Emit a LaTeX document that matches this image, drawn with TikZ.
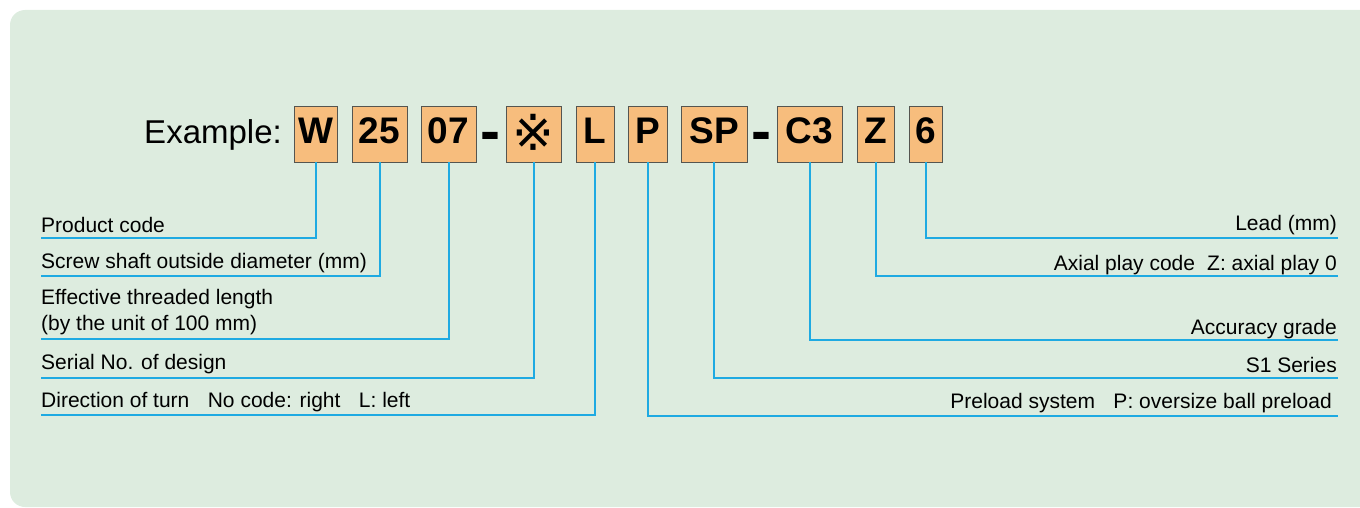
\documentclass[tikz,border=0pt]{standalone}
\usepackage{fontspec}
\setmainfont{Liberation Sans}
\newfontfamily\refmarkfont{DejaVu Sans}

\definecolor{panelgreen}{RGB}{221,236,223}
\definecolor{codeorange}{RGB}{247,189,125}
\definecolor{boxgray}{RGB}{85,85,80}
\definecolor{leadcyan}{RGB}{30,170,226}

\begin{document}
\begin{tikzpicture}[x=1pt, y=-1pt]

        % Setup the styles for the code boxes and the labels
        \tikzset{code box/.style={draw=boxgray,
                                  line width=0.8pt,
                                  fill=codeorange,
                                  minimum height=56pt,
                                  inner sep=0pt,
                                  text height=27pt,
                                  text depth=7pt,
                                  font=\fontsize{37}{40}\selectfont\bfseries},
                 dash sign/.style={inner sep=0pt, text height=41pt, text depth=7pt,
                                   font=\fontsize{60}{60}\selectfont\bfseries},
                 lead line/.style={draw=leadcyan, line width=2pt},
                 left label/.style={anchor=base west, inner sep=0pt, align=left,
                                    font=\fontsize{21}{26}\selectfont},
                 right label/.style={anchor=base east, inner sep=0pt,
                                     font=\fontsize{21}{26}\selectfont}}

        \useasboundingbox (0,0) rectangle (1360,508);

        % Draw the panel
        \fill[panelgreen, rounded corners=15pt] (10,10) rectangle (1400,507);

        % Draw the code boxes
        \node[anchor=base east, inner sep=0pt, font=\fontsize{33}{36}\selectfont]
                                        at (282,143)    (ex)    {Example:};
        \node[code box, minimum width=43pt]  at (315.5,134)  (cW)    {W};
        \node[code box, minimum width=55pt]  at (379.5,134)  (c25)   {25};
        \node[code box, minimum width=55pt]  at (448.5,134)  (c07)   {07};
        \node[dash sign]                     at (490.5,134)  (d1)    {-};
        \node[code box, minimum width=55pt]  at (533.5,134)  (cMark)
                        {\raisebox{-6pt}{\refmarkfont\mdseries\fontsize{50}{50}\selectfont ※}};
        \node[code box, minimum width=38pt]  at (595,134)    (cL)    {L};
        \node[code box, minimum width=39pt]  at (647.5,134)  (cP)    {P};
        \node[code box, minimum width=66pt]  at (714,134)    (cSP)   {SP};
        \node[dash sign]                     at (761.5,134)  (d2)    {-};
        \node[code box, minimum width=65pt]  at (809.5,134)  (cC3)   {C3};
        \node[code box, minimum width=37pt]  at (875.5,134)  (cZ)    {Z};
        \node[code box, minimum width=33pt]  at (925.5,134)  (c6)    {6};

        % Draw the labels
        \node[left label]   at (41,232)     (lProduct)  {Product code};
        \node[left label]   at (41,268)     (lShaft)    {Screw shaft outside diameter (mm)};
        \node[left label]   at (41,330)     (lLength)   {Effective threaded length\\(by the unit of 100 mm)};
        \node[left label]   at (41,369)     (lSerial)   {Serial No. of design};
        \node[left label]   at (41,407)     (lTurn)     {Direction of turn\hspace{0.6em} No code: right\hspace{0.6em} L: left};
        \node[right label]  at (1337,230)   (lLead)     {Lead (mm)};
        \node[right label]  at (1337,270)   (lPlay)     {Axial play code\hspace{0.3em} Z: axial play 0};
        \node[right label]  at (1337,334)   (lGrade)    {Accuracy grade};
        \node[right label]  at (1337,372)   (lSeries)   {S1 Series};
        \node[right label]  at (1332,408)   (lPreload)  {Preload system\hspace{0.6em} P: oversize ball preload};

        % Ends of the leader lines
        \coordinate (eProduct) at (41,238);
        \coordinate (eShaft)   at (41,276);
        \coordinate (eLength)  at (41,339);
        \coordinate (eSerial)  at (41,378);
        \coordinate (eTurn)    at (41,415);
        \coordinate (eLead)    at (1338,238);
        \coordinate (ePlay)    at (1338,276);
        \coordinate (eGrade)   at (1338,340);
        \coordinate (eSeries)  at (1338,378);
        \coordinate (ePreload) at (1338,416);

        % Connect the boxes with the labels
        \draw[lead line] (cW.south)    |- (eProduct);
        \draw[lead line] (c25.south)   |- (eShaft);
        \draw[lead line] (c07.south)   |- (eLength);
        \draw[lead line] (cMark.south) |- (eSerial);
        \draw[lead line] (cL.south)    |- (eTurn);
        \draw[lead line] (c6.south)    |- (eLead);
        \draw[lead line] (cZ.south)    |- (ePlay);
        \draw[lead line] (cC3.south)   |- (eGrade);
        \draw[lead line] (cSP.south)   |- (eSeries);
        \draw[lead line] (cP.south)    |- (ePreload);
    \end{tikzpicture}
\end{document}
